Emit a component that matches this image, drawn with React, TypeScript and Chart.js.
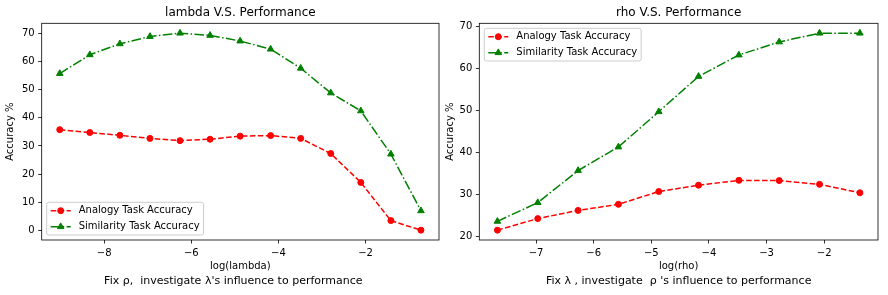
import React, { useEffect, useRef } from "react";
import { Chart, registerables } from "chart.js";
import { drawPoint } from "chart.js/helpers";

Chart.register(...registerables);

// ---- data ----
const lambdaLog = [-9.02, -8.33, -7.64, -6.95, -6.26, -5.57, -4.88, -4.18, -3.49, -2.8, -2.11, -1.42, -0.73];
const lambdaAnalogy = [35.8, 34.8, 33.8, 32.7, 31.9, 32.4, 33.5, 33.7, 32.7, 27.3, 17.0, 3.4, 0.0];
const lambdaSimilarity = [55.8, 62.5, 66.4, 69.0, 70.2, 69.4, 67.4, 64.5, 57.7, 48.9, 42.5, 27.1, 6.9];

const rhoLog = [-7.67, -6.97, -6.27, -5.57, -4.87, -4.18, -3.48, -2.78, -2.08, -1.38];
const rhoAnalogy = [21.6, 24.35, 26.3, 27.75, 30.8, 32.3, 33.45, 33.4, 32.5, 30.5];
const rhoSimilarity = [23.7, 28.15, 35.8, 41.4, 49.8, 58.2, 63.3, 66.4, 68.5, 68.5];

const lambdaXTicks = [-8, -6, -4, -2];
const lambdaYTicks = [0, 10, 20, 30, 40, 50, 60, 70];
const rhoXTicks = [-7, -6, -5, -4, -3, -2];
const rhoYTicks = [20, 30, 40, 50, 60, 70];

const seriesLabels = ["Analogy Task Accuracy", "Similarity Task Accuracy"];

const FONT = "'DejaVu Sans', sans-serif";
Chart.defaults.font.family = FONT;
Chart.defaults.color = "#000";

const framePlugin = {
  id: "mplFrame",
  afterDraw(chart: any) {
    const { ctx, chartArea: a } = chart;
    ctx.save();
    ctx.strokeStyle = "#000";
    ctx.lineWidth = 0.8;
    ctx.strokeRect(a.left, a.top, a.right - a.left, a.bottom - a.top);
    ctx.restore();
  },
};

const legendPlugin = {
  id: "mplLegend",
  afterDraw(chart: any, _args: any, opts: any) {
    const { ctx, chartArea: a } = chart;
    const ds = chart.data.datasets;
    ctx.save();
    ctx.font = `10px ${FONT}`;
    const tw = Math.max(...ds.map((d: any) => ctx.measureText(d.label).width));
    const w = 4 + 20 + 8 + tw + 4;
    const h = 32.7;
    const x = a.left + 5;
    const y = opts.corner === "lower" ? a.bottom - 5 - h : a.top + 5;
    const r = 2;
    ctx.beginPath();
    ctx.moveTo(x + r, y);
    ctx.lineTo(x + w - r, y);
    ctx.quadraticCurveTo(x + w, y, x + w, y + r);
    ctx.lineTo(x + w, y + h - r);
    ctx.quadraticCurveTo(x + w, y + h, x + w - r, y + h);
    ctx.lineTo(x + r, y + h);
    ctx.quadraticCurveTo(x, y + h, x, y + h - r);
    ctx.lineTo(x, y + r);
    ctx.quadraticCurveTo(x, y, x + r, y);
    ctx.closePath();
    ctx.fillStyle = "rgba(255,255,255,0.8)";
    ctx.fill();
    ctx.strokeStyle = "#cccccc";
    ctx.lineWidth = 1;
    ctx.stroke();
    ds.forEach((d: any, i: number) => {
      const cy = y + 8.4 + i * 16;
      ctx.strokeStyle = d.borderColor;
      ctx.lineWidth = d.borderWidth;
      ctx.setLineDash(d.borderDash);
      ctx.beginPath();
      ctx.moveTo(x + 4, cy);
      ctx.lineTo(x + 24, cy);
      ctx.stroke();
      ctx.setLineDash([]);
      ctx.fillStyle = d.pointBackgroundColor;
      ctx.strokeStyle = d.pointBorderColor;
      ctx.lineWidth = d.pointBorderWidth;
      drawPoint(ctx, { pointStyle: d.pointStyle, rotation: 0, radius: d.pointRadius, borderWidth: d.pointBorderWidth }, x + 14, cy);
      ctx.fillStyle = "#000";
      ctx.textAlign = "left";
      ctx.textBaseline = "middle";
      ctx.fillText(d.label, x + 32, cy);
    });
    ctx.restore();
  },
};

type PanelOpts = {
  title: string;
  xs: number[];
  analogy: number[];
  similarity: number[];
  xTicks: number[];
  yTicks: number[];
  xTitle: string;
  caption: string;
  yAxisWidth: number;
  yTitlePad: number;
  rightPad: number;
  legendCorner: "lower" | "upper";
};

function makeConfig(p: PanelOpts): any {
  const xmin = Math.min(...p.xs);
  const xmax = Math.max(...p.xs);
  const allY = [...p.analogy, ...p.similarity];
  const ymin = Math.min(...allY);
  const ymax = Math.max(...allY);
  const xm = (xmax - xmin) * 0.05;
  const ym = (ymax - ymin) * 0.05;
  const fmt = (v: any) => String(v).replace("-", "\u2212");
  const tickStyle = { font: { size: 10, family: FONT }, color: "#000", padding: 3.5, autoSkip: false, maxRotation: 0, callback: fmt };
  const gridStyle = { drawOnChartArea: false, drawTicks: true, tickLength: 3.5, tickColor: "#000", lineWidth: 0.8 };
  return {
    type: "line",
    data: {
      datasets: [
        {
          label: seriesLabels[0],
          data: p.xs.map((x, i) => ({ x, y: p.analogy[i] })),
          borderColor: "#ff0000",
          backgroundColor: "#ff0000",
          borderWidth: 1.5,
          borderDash: [5.55, 2.4],
          pointStyle: "circle",
          pointRadius: 3,
          pointBorderWidth: 1,
          pointBackgroundColor: "#ff0000",
          pointBorderColor: "#ff0000",
          tension: 0,
          fill: false,
        },
        {
          label: seriesLabels[1],
          data: p.xs.map((x, i) => ({ x, y: p.similarity[i] })),
          borderColor: "#008000",
          backgroundColor: "#008000",
          borderWidth: 1.5,
          borderDash: [9.6, 2.4, 1.5, 2.4],
          pointStyle: "triangle",
          pointRadius: 3.8,
          pointBorderWidth: 1,
          pointBackgroundColor: "#008000",
          pointBorderColor: "#008000",
          tension: 0,
          fill: false,
        },
      ],
    },
    options: {
      responsive: false,
      animation: false,
      events: [],
      layout: { padding: { left: 0, right: p.rightPad, top: 0, bottom: 0 } },
      plugins: {
        legend: { display: false },
        tooltip: { enabled: false },
        title: {
          display: true,
          text: p.title,
          fullSize: false,
          color: "#000",
          font: { size: 12, family: FONT, weight: "normal", lineHeight: 1.2 },
          padding: { top: 5.5, bottom: 3.4 },
        },
        subtitle: {
          display: true,
          position: "bottom",
          text: p.caption,
          fullSize: false,
          color: "#000",
          font: { size: 11, family: FONT, weight: "normal", lineHeight: 1.2 },
          padding: { top: 0, bottom: 7.4 },
        },
        mplLegend: { corner: p.legendCorner },
      },
      scales: {
        x: {
          type: "linear",
          min: xmin - xm,
          max: xmax + xm,
          afterBuildTicks: (s: any) => {
            s.ticks = p.xTicks.map((v) => ({ value: v }));
          },
          afterFit: (s: any) => {
            s.height = 34.4;
          },
          ticks: tickStyle,
          grid: gridStyle,
          border: { display: false },
          title: {
            display: true,
            text: p.xTitle,
            color: "#000",
            font: { size: 10, family: FONT, lineHeight: 1.2 },
            padding: { top: 0, bottom: 1.7 },
          },
        },
        y: {
          type: "linear",
          min: ymin - ym,
          max: ymax + ym,
          afterBuildTicks: (s: any) => {
            s.ticks = p.yTicks.map((v) => ({ value: v }));
          },
          afterFit: (s: any) => {
            s.width = p.yAxisWidth;
          },
          ticks: tickStyle,
          grid: gridStyle,
          border: { display: false },
          title: {
            display: true,
            text: "Accuracy %",
            color: "#000",
            font: { size: 10, family: FONT, lineHeight: 1.2 },
            padding: { top: p.yTitlePad, bottom: 0 },
          },
        },
      },
    },
    plugins: [framePlugin, legendPlugin],
  };
}

export default function App() {
  const leftRef = useRef<HTMLCanvasElement | null>(null);
  const rightRef = useRef<HTMLCanvasElement | null>(null);

  useEffect(() => {
    const left = new Chart(
      leftRef.current as HTMLCanvasElement,
      makeConfig({
        title: "lambda V.S. Performance",
        xs: lambdaLog,
        analogy: lambdaAnalogy,
        similarity: lambdaSimilarity,
        xTicks: lambdaXTicks,
        yTicks: lambdaYTicks,
        xTitle: "log(lambda)",
        caption: "Fix \u03c1,  investigate \u03bb's influence to performance    ",
        yAxisWidth: 41.7,
        yTitlePad: 4.7,
        rightPad: 4.7,
        legendCorner: "lower",
      })
    );
    const right = new Chart(
      rightRef.current as HTMLCanvasElement,
      makeConfig({
        title: "rho V.S. Performance",
        xs: rhoLog,
        analogy: rhoAnalogy,
        similarity: rhoSimilarity,
        xTicks: rhoXTicks,
        yTicks: rhoYTicks,
        xTitle: "log(rho)",
        caption: "Fix \u03bb , investigate  \u03c1 's influence to performance",
        yAxisWidth: 35.3,
        yTitlePad: 0.7,
        rightPad: 10,
        legendCorner: "upper",
      })
    );
    return () => {
      left.destroy();
      right.destroy();
    };
  }, []);

  return (
    <div style={{ position: "absolute", left: 0, top: 0, width: 888, height: 295, background: "#fff" }}>
      <canvas ref={leftRef} width={444} height={295} style={{ position: "absolute", left: 0, top: 0, display: "block" }} />
      <canvas ref={rightRef} width={444} height={295} style={{ position: "absolute", left: 444, top: 0, display: "block" }} />
    </div>
  );
}
